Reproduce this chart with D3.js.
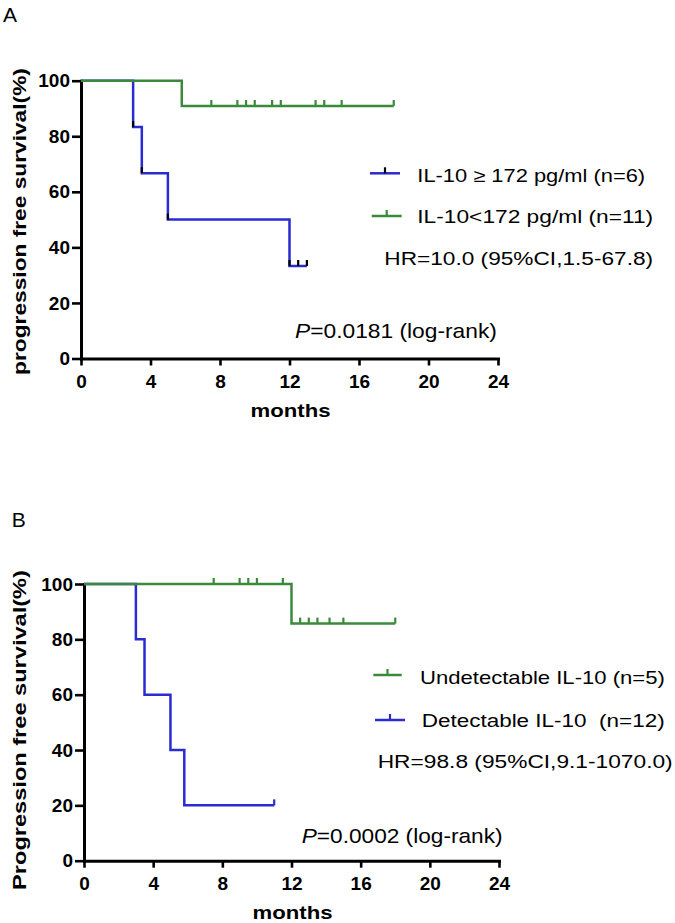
<!DOCTYPE html>
<html><head><meta charset="utf-8">
<script src="https://cdn.jsdelivr.net/npm/d3@7"></script>
<style>
body{margin:0;background:#fff}
svg{display:block}
text{font-family:"Liberation Sans",Arial,Helvetica,sans-serif;fill:#000;white-space:pre}
</style>
</head><body>
<svg id="c" width="675" height="923"></svg>
<script>
// ---------- data ----------
const xTicks = [0, 4, 8, 12, 16, 20, 24];
const yTicks = [0, 20, 40, 60, 80, 100];

// Panel A
const aHighTime  = [0, 3, 3.5, 5, 12, 13];
const aHighSurv  = [100, 83.3, 66.7, 50, 33.3, 33.3];
const aHighMarks = [3, 3.5, 5, 12, 12.5, 13];
const aLowTime   = [0, 5.8, 18];
const aLowSurv   = [100, 90.9, 90.9];
const aLowMarks  = [7.5, 9, 9.5, 10, 11, 11.5, 13.5, 14, 15, 18];
const aLabels    = ["IL-10 \u2265 172 pg/ml (n=6)", "IL-10<172 pg/ml (n=11)"];
const aHR        = "HR=10.0 (95%CI,1.5-67.8)";
const aP         = "=0.0181 (log-rank)";
const aYTitle    = "progression free survival(%)";

// Panel B
const bUndetTime  = [0, 12, 18];
const bUndetSurv  = [100, 85.7, 85.7];
const bUndetMarks = [7.5, 9, 9.5, 10, 11.5, 12.5, 13, 13.5, 14.2, 15, 18];
const bDetTime    = [0, 3, 3.5, 5, 5.8, 11];
const bDetSurv    = [100, 80, 60, 40, 20, 20];
const bDetMarks   = [11];
const bLabels     = ["Undetectable IL-10 (n=5)", "Detectable IL-10  (n=12)"];
const bHR         = "HR=98.8 (95%CI,9.1-1070.0)";
const bP          = "=0.0002 (log-rank)";
const bYTitle     = "Progression free survival(%)";

const xTitle = "months";
const BLUE = "#2b2bd2", GREEN = "#3b8a3b";

// ---------- helpers ----------
const svg = d3.select("#c");

function survAt(times, surv, t) {
  let v = surv[0];
  for (let i = 0; i < times.length; i++) if (times[i] <= t + 1e-9) v = surv[i];
  return v;
}

function fitText(parent, tx, ty, w, build, opts = {}) {
  const g = parent.append("g");
  const t = g.append("text").attr("x", 0).attr("y", 0).attr("xml:space", "preserve");
  if (opts.anchor) t.attr("text-anchor", opts.anchor);
  build(t);
  const L = t.node().getComputedTextLength();
  const s = L > 0 ? w / L : 1;
  g.attr("transform", `translate(${tx},${ty})` + (opts.rotate ? ` rotate(${opts.rotate})` : "") + ` scale(${s},1)`);
  return g;
}

function drawPanel(cfg) {
  const g = svg.append("g");
  const x = d3.scaleLinear().domain([0, 24]).range([cfg.x0, cfg.x1]);
  const y = d3.scaleLinear().domain([0, 100]).range([cfg.y0, cfg.y1]);

  // panel letter
  g.append("text").attr("x", cfg.letterX).attr("y", cfg.letterY)
    .style("font-size", "21px").text(cfg.letter);

  // axes
  const ax = g.append("g").attr("transform", `translate(0,${cfg.y0})`)
    .call(d3.axisBottom(x).tickValues(xTicks).tickSize(7).tickPadding(9).tickSizeOuter(0));
  const ay = g.append("g").attr("transform", `translate(${cfg.x0},0)`)
    .call(d3.axisLeft(y).tickValues(yTicks).tickSize(9).tickPadding(2).tickSizeOuter(0));
  [ax, ay].forEach(a => {
    a.select(".domain").attr("stroke", "#000").attr("stroke-width", 3).attr("stroke-linecap", "square");
    a.selectAll(".tick line").attr("stroke", "#000").attr("stroke-width", 2.6);
    a.selectAll(".tick text").style("font-size", "19px").style("font-weight", "bold")
      .style("font-family", '"Liberation Sans",Arial,sans-serif').attr("fill", "#000");
  });

  // curves
  const line = d3.line().curve(d3.curveStepAfter).x(d => x(d[0])).y(d => y(d[1]));
  cfg.series.forEach(s => {
    const pts = s.time.map((t, i) => [t, s.surv[i]]);
    g.append("path").attr("d", line(pts)).attr("fill", "none")
      .attr("stroke", s.color).attr("stroke-width", 2.5);
    g.selectAll(null).data(s.marks).enter().append("line")
      .attr("x1", d => x(d)).attr("x2", d => x(d))
      .attr("y1", d => y(survAt(s.time, s.surv, d)))
      .attr("y2", d => y(survAt(s.time, s.surv, d)) - 6)
      .attr("stroke", s.markColor).attr("stroke-width", 2.2);
  });

  // legend
  cfg.legend.forEach(l => {
    g.append("line").attr("x1", l.lx0).attr("x2", l.lx1).attr("y1", l.ly).attr("y2", l.ly)
      .attr("stroke", l.color).attr("stroke-width", 2.5);
    const mx = (l.lx0 + l.lx1) / 2;
    g.append("line").attr("x1", mx).attr("x2", mx).attr("y1", l.ly).attr("y2", l.ly - 6)
      .attr("stroke", l.markColor).attr("stroke-width", 2.2);
    fitText(g, l.tx, l.ty, l.tw, t => t.style("font-size", "18.5px").text(l.text));
  });
  fitText(g, cfg.hr.x, cfg.hr.y, cfg.hr.w, t => t.style("font-size", "18.5px").text(cfg.hr.text));
  fitText(g, cfg.p.x, cfg.p.y, cfg.p.w, t => {
    t.style("font-size", "20px");
    t.append("tspan").style("font-style", "italic").text("P");
    t.append("tspan").text(cfg.p.text);
  });

  // axis titles
  fitText(g, (cfg.x0 + cfg.x1) / 2 + 1, cfg.xTitleY, 80,
    t => t.style("font-size", "18px").style("font-weight", "bold").text(xTitle), { anchor: "middle" });
  fitText(g, 26, cfg.yTitleCY, cfg.yTitleW,
    t => t.style("font-size", "19px").style("font-weight", "bold").text(cfg.yTitle),
    { anchor: "middle", rotate: -90 });
}

drawPanel({
  letter: "A", letterX: 3, letterY: 21.5,
  x0: 81, x1: 498, y0: 358.5, y1: 80.7,
  series: [
    { time: aHighTime, surv: aHighSurv, marks: aHighMarks, color: BLUE, markColor: "#000" },
    { time: aLowTime, surv: aLowSurv, marks: aLowMarks, color: GREEN, markColor: GREEN }
  ],
  legend: [
    { lx0: 370, lx1: 400, ly: 173.3, color: BLUE, markColor: "#000", tx: 417.3, ty: 181.7, tw: 228, text: aLabels[0] },
    { lx0: 371.7, lx1: 401.7, ly: 216, color: GREEN, markColor: GREEN, tx: 417.3, ty: 223.3, tw: 236, text: aLabels[1] }
  ],
  hr: { x: 384.3, y: 265, w: 269, text: aHR },
  p: { x: 295, y: 337.5, w: 202, text: aP },
  xTitleY: 416.5, yTitle: aYTitle, yTitleCY: 221.5, yTitleW: 307
});

drawPanel({
  letter: "B", letterX: 11.7, letterY: 526.5,
  x0: 84, x1: 499, y0: 860.7, y1: 584,
  series: [
    { time: bDetTime, surv: bDetSurv, marks: bDetMarks, color: BLUE, markColor: BLUE },
    { time: bUndetTime, surv: bUndetSurv, marks: bUndetMarks, color: GREEN, markColor: GREEN }
  ],
  legend: [
    { lx0: 373.3, lx1: 401.7, ly: 675, color: GREEN, markColor: GREEN, tx: 420, ty: 684, tw: 245, text: bLabels[0] },
    { lx0: 375, lx1: 405, ly: 720, color: BLUE, markColor: BLUE, tx: 421.7, ty: 726.7, tw: 243, text: bLabels[1] }
  ],
  hr: { x: 377.7, y: 768.3, w: 295, text: bHR },
  p: { x: 301.7, y: 843.3, w: 201, text: bP },
  xTitleY: 919, yTitle: bYTitle, yTitleCY: 730, yTitleW: 320
});
</script>
</body></html>
